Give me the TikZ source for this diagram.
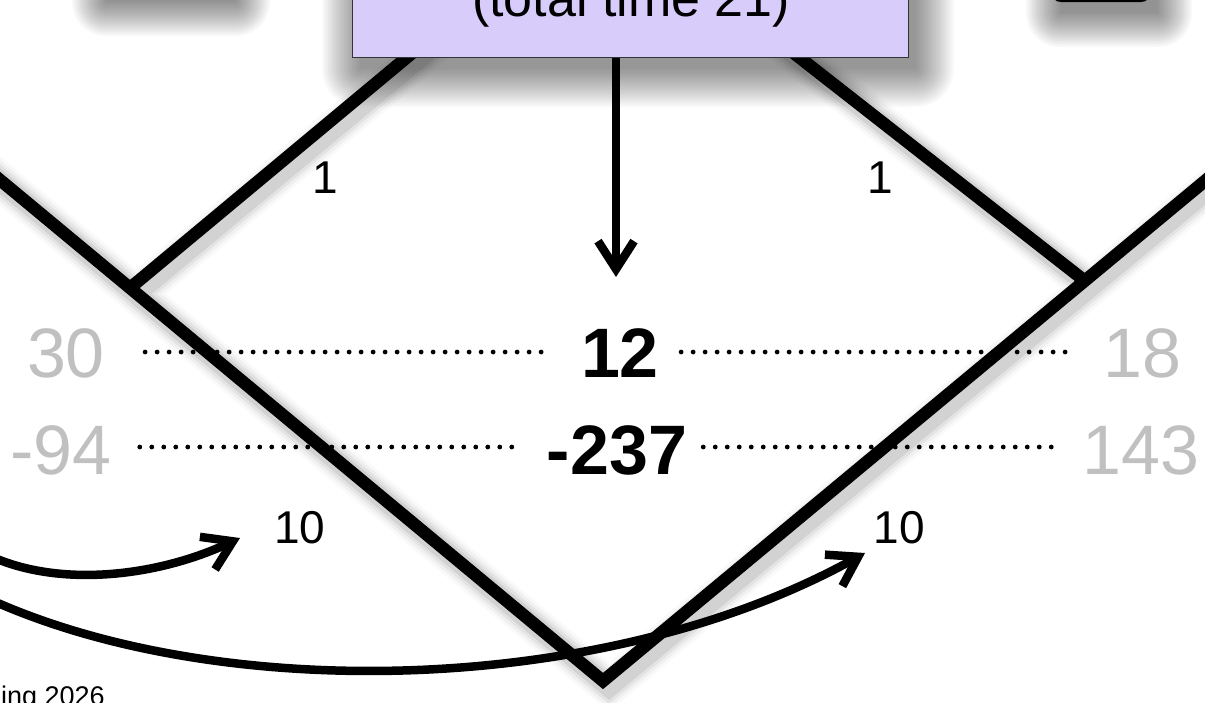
\documentclass[tikz,border=0pt]{standalone}
\usepackage{fontspec}
\setmainfont{Liberation Sans}
\usetikzlibrary{arrows.meta}
\definecolor{lav}{RGB}{216,204,251}
\definecolor{numgray}{RGB}{192,192,192}
\newcommand\mysoftshadow[6]{%
  \foreach \e in {0,2,...,#5}{%
    \fill[black, opacity=#6, rounded corners=\e pt] (#1-\e+8, #2-\e+12) rectangle (#3+\e+8, #4+\e+12);
  }}
\begin{document}
\begin{tikzpicture}[x=1pt,y=-1pt,
  vline/.style={line width=12.5pt, line join=miter},
  dotline/.style={line width=4.8pt, line cap=round, dash pattern=on 0pt off 12pt},
  barb/.style={-{Straight Barb[length=28pt,width=36pt]}, line width=8.5pt},
  grnum/.style={inner sep=0pt, text=numgray, font=\fontsize{70}{80}\selectfont},
  bnum/.style={inner sep=0pt, font=\fontsize{70}{80}\selectfont\bfseries},
  wlabel/.style={inner sep=0pt, font=\fontsize{46}{52}\selectfont}
]
\useasboundingbox (0,0) rectangle (1205,702);
\clip (0,0) rectangle (1205,702);
\fill[white] (0,0) rectangle (1205,702);

% objects above the frame (only shadows / edges visible)
\mysoftshadow{98}{-140}{228}{-10}{34}{0.026}
\fill[white] (98,-140) rectangle (228,-10);
\mysoftshadow{1052}{-120}{1150}{1}{34}{0.026}
\draw[fill=white, line width=2pt, rounded corners=9pt] (1052,-120) rectangle (1150,1);

% geometry
\coordinate (B) at (603,681);
\coordinate (L) at (130,288);
\coordinate (R) at (1085,281);
\coordinate (LT) at (-30,155);
\coordinate (RT) at (1235,156);
\coordinate (T) at (597,-101);

% line shadows
\foreach \w/\o in {38/0.025,32/0.035,26/0.05,20/0.07}{
  \draw[line width=\w pt, black, opacity=\o, line join=miter, transform canvas={xshift=6pt,yshift=-6pt}]
    (LT) -- (B) -- (RT) (L) -- (T) -- (R);
}
% V lines
\draw[vline] (LT) -- (B) -- (RT);
\draw[vline] (L) -- (T) -- (R);

% central box
\mysoftshadow{352}{-220}{908}{57}{38}{0.024}
\node[draw=black!80, line width=1pt, fill=lav, minimum width=556pt, minimum height=260pt,
      inner sep=0pt] (box) at (630,-73) {};
\node[anchor=base, inner sep=0pt, font=\fontsize{52}{60}\selectfont] (boxtext) at (631,16) {(total time 21)};

% vertical arrow
\coordinate (atip) at (616,277);
\draw[barb] (box.south -| atip) -- (atip);

% labels
\node[wlabel] (w1l) at (325,178) {1};
\node[wlabel] (w1r) at (880,178) {1};
\node[wlabel] (w10l) at (300,528) {10};
\node[wlabel] (w10r) at (899,528) {10};

\node[grnum] (n30) at (66,353) {30};
\node[grnum] (n18) at (1142,353) {18};
\node[grnum] (n94) at (61,450) {-94};
\node[grnum] (n143) at (1141,450) {143};
\node[bnum] (n12) at (620,353) {12};
\node[bnum] (n237) at (617,450) {-237};

% dotted lines
\draw[dotline, shorten <=40pt, shorten >=36pt] (n30.east |- 0,352) -- (n12.west |- 0,352);
\draw[dotline, shorten <=22pt, shorten >=36pt] (n12.east |- 0,352) -- (n18.west |- 0,352);
\draw[dotline, shorten <=28pt, shorten >=26pt] (n94.east |- 0,447) -- (n237.west |- 0,447);
\draw[dotline, shorten <=16pt, shorten >=22pt] (n237.east |- 0,447) -- (n143.west |- 0,447);

% curved arrows
\coordinate (c1s) at (-30,545);
\coordinate (c1e) at (240,538);
\draw[barb] (c1s) .. controls (40,590) and (150,580) .. (c1e);
\coordinate (c2s) at (-30,590);
\coordinate (c2e) at (865,553);
\draw[barb] (c2s) .. controls (200,705) and (600,700) .. (c2e);

% footer
\node[anchor=base west, inner sep=0pt, font=\fontsize{27}{30}\selectfont] (foot) at (1,705) {ing 2026};
\end{tikzpicture}
\end{document}
